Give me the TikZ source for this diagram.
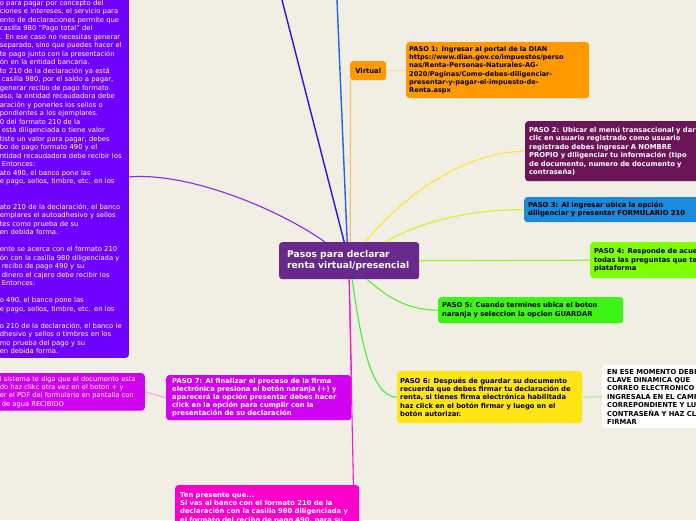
\documentclass[tikz,border=0pt]{standalone}
\usepackage{fontspec}
\setmainfont{DejaVu Sans}
\usetikzlibrary{calc,positioning}

\definecolor{mapfondo}{RGB}{241,239,227}
\definecolor{mapcentro}{RGB}{103,42,139}
\definecolor{mapnotas}{RGB}{112,0,255}
\definecolor{mapmorado}{RGB}{135,40,245}
\definecolor{mapazulosc}{RGB}{40,20,230}
\definecolor{mapazul}{RGB}{30,100,240}
\definecolor{mapnaranja}{RGB}{255,153,0}
\definecolor{mapnaranjacl}{RGB}{250,190,110}
\definecolor{mapnaranjapal}{RGB}{250,220,170}
\definecolor{mappasodos}{RGB}{107,20,87}
\definecolor{mappasotres}{RGB}{28,137,218}
\definecolor{mappasocuatro}{RGB}{128,255,0}
\definecolor{mappasocinco}{RGB}{60,245,20}
\definecolor{mappasoseis}{RGB}{255,229,20}
\definecolor{mappasosiete}{RGB}{208,0,240}
\definecolor{mapten}{RGB}{255,0,204}
\definecolor{mapamarillo}{RGB}{255,228,50}
\definecolor{maplima}{RGB}{210,245,40}
\definecolor{mapverdecuatro}{RGB}{150,245,40}
\definecolor{mapverdecinco}{RGB}{90,240,40}
\definecolor{mapverdeseis}{RGB}{60,240,60}
\definecolor{mapverdepal}{RGB}{150,245,150}
\definecolor{maprosa}{RGB}{255,20,200}
\definecolor{maprosapal}{RGB}{240,160,230}

\begin{document}
\begin{tikzpicture}[x=1pt,y=-1pt]

\tikzstyle{mapnode} = [rectangle,rounded corners=3pt,anchor=north west,inner xsep=4pt,inner ysep=3pt,align=left,text=black,font=\bfseries\fontsize{6.8}{8.4}\selectfont]%
\tikzstyle{mapnote} = [mapnode,text=white,inner xsep=2pt,font=\fontsize{6.8}{8.5}\selectfont]%
\tikzstyle{maparc} = [line width=1.1pt]%

\clip (0,0) rectangle (696,520);
\fill[mapfondo] (0,0) rectangle (696,520);

\node[mapnode,fill=mapcentro,text=white,font=\bfseries\fontsize{9.2}{11}\selectfont,inner xsep=8pt,text width=124pt,minimum height=37pt] (centro) at (279,242) {Pasos para declarar\\renta virtual/presencial};

\node[mapnode,fill=mapnaranja,minimum width=36pt,minimum height=19pt,align=center,font=\bfseries\fontsize{6.8}{8}\selectfont] (virtual) at (350,61) {Virtual};

\node[mapnode,fill=mapnaranja,inner xsep=3pt,text width=177pt,minimum height=56pt,font=\bfseries\fontsize{6.6}{8.3}\selectfont] (paso1) at (406,42) {PASO 1: Ingresar al portal de la DIAN\\https://www.dian.gov.co/impuestos/perso\\nas/Renta-Personas-Naturales-AG-\\2020/Paginas/Como-debes-diligenciar-\\presentar-y-pagar-el-impuesto-de-\\Renta.aspx};

\node[mapnode,fill=mappasodos,text=white,text width=200pt,minimum height=60pt,font=\bfseries\fontsize{6.8}{8.5}\selectfont] (paso2) at (525,121) {PASO 2: Ubicar el menú transaccional y dar\\clic en usuario registrado como usuario\\registrado debes ingresar A NOMBRE\\PROPIO y diligenciar tu información (tipo\\de documento, numero de documento y\\contraseña)};

\node[mapnode,fill=mappasotres,text width=200pt,minimum height=25pt] (paso3) at (524,197) {PASO 3: Al ingresar ubica la opción\\diligenciar y presentar FORMULARIO 210};

\node[mapnode,fill=mappasocuatro,text width=150pt,minimum height=36pt] (paso4) at (590,242) {PASO 4: Responde de acuerdo\\todas las preguntas que te\\plataforma};

\node[mapnode,fill=mappasocinco,text width=177pt,minimum height=26pt] (paso5) at (438,297) {PASO 5: Cuando termines ubica el boton\\naranja y seleccion la opcion GUARDAR};

\node[mapnode,fill=mappasoseis,inner xsep=3pt,text width=179pt,minimum height=52pt] (paso6) at (397,371) {PASO 6: Después de guardar su documento\\recuerda que debes firmar tu declaración de\\renta, si tienes firma electrónica habilitada\\haz click en el botón firmar y luego en el\\botón autorizar.};

\node[mapnode,fill=white,inner xsep=5pt,text width=150pt,minimum height=63pt] (clave) at (602,365) {EN ESE MOMENTO DEBES\\CLAVE DINAMICA QUE\\CORREO ELECTRONICO\\INGRESALA EN EL CAMPO\\CORREPONDIENTE Y LUEGO\\CONTRASEÑA Y HAZ CLICK\\FIRMAR};

\node[mapnode,fill=mappasosiete,text=white,inner xsep=6pt,text width=173pt,minimum height=43pt,font=\bfseries\fontsize{6.8}{8.1}\selectfont] (paso7) at (166,375) {PASO 7: Al finalizar el proceso de la firma\\electrónica presiona el botón naranja (+) y\\aparecerá la opción presentar debes hacer\\click en la opción para cumplir con la\\presentación de su declaración};

\node[mapnote,fill=mappasosiete,anchor=north east,text width=143pt,minimum height=37pt,font=\fontsize{6.7}{8.3}\selectfont] (firmado) at (145,373) {l sistema te diga que el documento esta\\do haz clikc otra vez en el boton + y\\er el PDF del formulario en pantalla con\\\hspace{2pt}de agua RECIBIDO};

\node[mapnode,fill=mapten,text=white,inner xsep=5pt,inner ysep=7pt,text width=174pt] (ten) at (175,485) {Ten presente que...\\Si vas al banco con el formato 210 de la\\declaración con la casilla 980 diligenciada y\\el formato del recibo de pago 490, para su};

\node[mapnote,fill=mapnotas,anchor=south east,text width=127pt,inner ysep=4pt] (notas) at (129,358) {o para pagar por concepto del\\ciones e intereses, el servicio para\\ento de declaraciones permite que\\casilla 980 "Pago total" del\\. En ese caso no necesitas generar\\separado, sino que puedes hacer el\\te pago junto con la presentación\\ón en la entidad bancaria.\\to 210 de la declaración ya está\\\hspace{2pt}casilla 980, por el saldo a pagar,\\generar recibo de pago formato\\aso, la entidad recaudadora debe\\aración y ponerles los sellos o\\pondientes a los ejemplares.\\0 del formato 210 de la\\\hspace{2pt}está diligenciada o tiene valor\\tiste un valor para pagar, debes\\bo de pago formato 490 y el\\ntidad recaudadora debe recibir los\\\hspace{2pt}Entonces:\\ato 490, el banco pone las\\e pago, sellos, timbre, etc. en los\\~\\~\\ato 210 de la declaración, el banco\\emplares el autoadhesivo y sellos\\tes como prueba de su\\en debida forma.\\~\\ente se acerca con el formato 210\\ón con la casilla 980 diligenciada y\\\hspace{2pt}recibo de pago 490 y su\\\hspace{2pt}dinero el cajero debe recibir los\\\hspace{2pt}Entonces:\\~\\o 490, el banco pone las\\e pago, sellos, timbre, etc. en los\\~\\o 210 de la declaración, el banco le\\dhesivo y sellos o timbres en los\\mo prueba del pago y su\\en debida forma.};

% ramas que salen del arriba
\coordinate (arribaA) at (282,0);
\coordinate (arribaB) at (337,0);

\draw[maparc,line width=1.4pt,mapazulosc] (arribaA) -- ($(centro.north)+(-5,0)$);
\draw[maparc,line width=1.4pt,mapazul] (arribaB) -- ($(centro.north)+(-2,0)$);
\draw[maparc,mapnaranjacl] ($(virtual.south west)+(0.5,0)$) -- ($(centro.north)+(1,0)$);
\draw[maparc,line width=1pt,mapnaranjapal] (virtual.east) -- (paso1.west);

\draw[maparc,mapmorado] (notas.east)
    .. controls (190,172) and (280,210) .. ($(centro.north west)+(46,0)$);

\draw[maparc,mapamarillo] ($(centro.north)+(16,0)$)
    .. controls (400,200) and (460,152) .. (paso2.west);
\draw[maparc,maplima] ($(centro.north)+(36,0)$)
    .. controls (420,222) and (470,209) .. (paso3.west);
\draw[maparc,mapverdecuatro] (centro.east) -- (paso4.west);
\draw[maparc,mapverdecinco] ($(centro.south)+(18,0)$)
    .. controls (385,295) and (405,310) .. (paso5.west);
\draw[maparc,mapverdeseis] ($(centro.south)+(3,0)$)
    .. controls (360,335) and (370,397) .. (paso6.west);
\draw[maparc,line width=1pt,mapverdepal] (paso6.east) -- (clave.west);

\draw[maparc,maprosa] (centro.south) -- ($(ten.north east)+(-6,0)$);
\draw[maparc,maprosa] (centro.south) -- (paso7.north east);
\draw[maparc,line width=1pt,maprosapal] (paso7.west) -- (firmado.east);

\end{tikzpicture}
\end{document}
